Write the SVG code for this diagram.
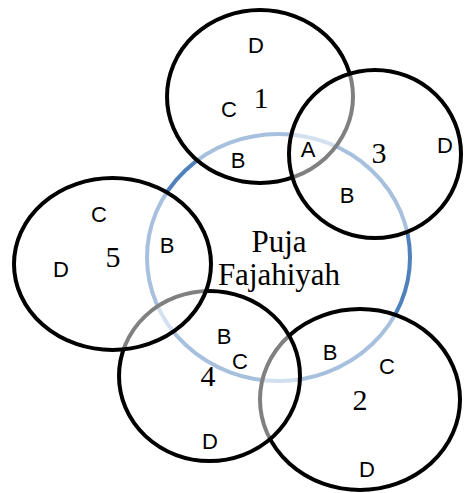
<svg xmlns="http://www.w3.org/2000/svg" width="464" height="493" viewBox="0 0 464 493">
  <style>
    .ring { fill: #ffffff; fill-opacity: 0.5; stroke: #000000; stroke-width: 4; }
    .core { fill: none; stroke: #4f81bd; stroke-width: 4; }
    .lbl { font-family: "Liberation Sans", Arial, sans-serif; font-size: 22px; fill: #000; text-anchor: middle; }
    .num { font-family: "Liberation Serif", "Times New Roman", serif; font-size: 30px; fill: #000; text-anchor: middle; }
    .name { font-family: "Liberation Serif", "Times New Roman", serif; font-size: 31px; fill: #000; text-anchor: middle; }
  </style>
  <rect width="464" height="493" fill="#ffffff"/>
  <g id="connectors"/>
  <g id="center">
    <ellipse class="core" cx="278.5" cy="257.5" rx="131.5" ry="123.5"/>
    <text class="name" x="279" y="252">Puja</text>
    <text class="name" x="279" y="285">Fajahiyah</text>
  </g>
  <g id="node1">
    <ellipse class="ring" cx="260" cy="96.5" rx="93" ry="86.5"/>
    <text class="lbl" x="256" y="53">D</text>
    <text class="num" x="261" y="108">1</text>
    <text class="lbl" x="229" y="117">C</text>
    <text class="lbl" x="238" y="168">B</text>
  </g>
  <g id="node3">
    <ellipse class="ring" cx="375" cy="154" rx="86" ry="84"/>
    <text class="lbl" x="308" y="157">A</text>
    <text class="num" x="379" y="163">3</text>
    <text class="lbl" x="445" y="153">D</text>
    <text class="lbl" x="347" y="203">B</text>
  </g>
  <g id="node2">
    <ellipse class="ring" cx="360" cy="399.5" rx="100" ry="90.5"/>
    <text class="lbl" x="330" y="360">B</text>
    <text class="lbl" x="387" y="374">C</text>
    <text class="num" x="360" y="410">2</text>
    <text class="lbl" x="367" y="477">D</text>
  </g>
  <g id="node4">
    <ellipse class="ring" cx="209.5" cy="376" rx="90.5" ry="85"/>
    <text class="lbl" x="224" y="344">B</text>
    <text class="lbl" x="240" y="369">C</text>
    <text class="num" x="208" y="386">4</text>
    <text class="lbl" x="210" y="449">D</text>
  </g>
  <g id="node5">
    <ellipse class="ring" cx="112.5" cy="264" rx="98.5" ry="86"/>
    <text class="lbl" x="99" y="222">C</text>
    <text class="num" x="113" y="267">5</text>
    <text class="lbl" x="61" y="277">D</text>
    <text class="lbl" x="167" y="253">B</text>
  </g>
</svg>
